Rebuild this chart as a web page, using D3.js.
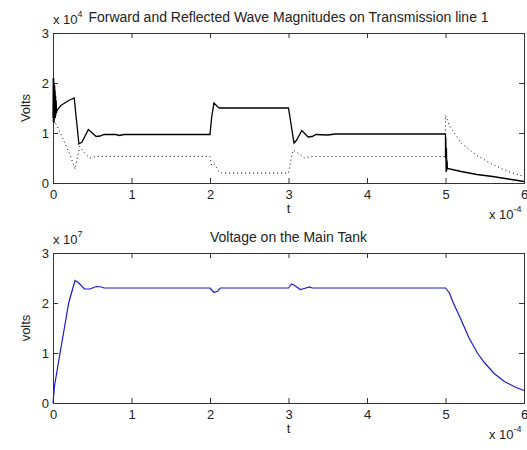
<!DOCTYPE html>
<meta charset="utf-8">
<html>
<head>
  <script src="https://d3js.org/d3.v7.min.js" charset="utf-8"></script>
</head>
<style>
* { font-family: "Liberation Sans", Arial, sans-serif; }
body { margin: 0; background-color: white; }
.tick text { font-size: 13px; fill: #222; }
.lbl { font-size: 13px; fill: #222; }
</style>
<body>
<div id="container"></div>
<script type="text/javascript">

// forward wave (solid), t in 1e-4 s, volts in 1e4
var tForward = [0, 0.003, 0.006, 0.009, 0.012, 0.015, 0.018, 0.021, 0.024, 0.027, 0.03, 0.033, 0.036, 0.04, 0.045, 0.05,
  0.1, 0.2, 0.27, 0.33, 0.37, 0.45, 0.5, 0.55, 0.6, 0.65, 0.8, 0.85, 0.9, 2.0, 2.02, 2.05, 2.1, 2.12, 3.0,
  3.03, 3.07, 3.1, 3.17, 3.25, 3.3, 3.35, 3.5, 3.6, 5.0, 5.0, 5.004, 5.008, 5.012, 5.016, 5.02, 5.024, 5.2, 5.4, 5.6, 5.8, 6.0];
var vForward = [1.3, 2.1, 1.2, 2.1, 1.2, 2.0, 1.25, 1.95, 1.3, 1.85, 1.3, 1.75, 1.35, 1.65, 1.4, 1.45,
  1.55, 1.65, 1.7, 0.78, 0.82, 1.07, 1.0, 0.93, 0.94, 0.97, 0.97, 0.95, 0.97, 0.97, 1.3, 1.6, 1.52, 1.5, 1.5,
  1.2, 0.8, 0.85, 1.05, 0.92, 0.93, 0.97, 0.96, 0.98, 0.98, 0.5, 0.9, 0.22, 0.7, 0.25, 0.45, 0.29, 0.23, 0.17, 0.13, 0.08, 0.03];

// reflected wave (dotted)
var tReflected = [0, 0.03, 0.08, 0.15, 0.22, 0.28, 0.31, 0.34, 0.4, 0.47, 0.55, 2.0, 2.02, 2.06, 2.1, 2.15, 3.0,
  3.03, 3.06, 3.12, 3.2, 3.3, 5.0, 5.0, 5.05, 5.2, 5.4, 5.6, 5.8, 6.0];
var vReflected = [1.25, 1.2, 1.05, 0.8, 0.55, 0.28, 0.5, 0.73, 0.6, 0.5, 0.53, 0.53, 0.35, 0.38, 0.25, 0.2, 0.2,
  0.45, 0.66, 0.6, 0.5, 0.53, 0.53, 1.36, 1.15, 0.8, 0.55, 0.37, 0.23, 0.13];

// main tank voltage, volts in 1e7
var tTank = [0, 0.02, 0.09, 0.2, 0.28, 0.33, 0.4, 0.47, 0.55, 0.62, 0.65, 2.0, 2.05, 2.1, 2.13, 3.0, 3.04, 3.08,
  3.15, 3.2, 3.27, 3.3, 5.0, 5.05, 5.1, 5.2, 5.3, 5.41, 5.5, 5.62, 5.75, 5.9, 6.0];
var vTank = [0, 0.35, 1.0, 2.0, 2.45, 2.4, 2.28, 2.28, 2.33, 2.32, 2.3, 2.3, 2.21, 2.24, 2.3, 2.3, 2.38, 2.35,
  2.27, 2.29, 2.32, 2.3, 2.3, 2.2, 2.0, 1.66, 1.3, 0.99, 0.8, 0.59, 0.43, 0.31, 0.25];

var xTicks = [0, 1, 2, 3, 4, 5, 6];
var yTicks = [0, 1, 2, 3];

var width = 527, height = 450;
var svg = d3.select("#container").append("svg")
  .attr("width", width).attr("height", height);

function panel(top, bottom, title, yLabel, yExp, series) {
  var left = 53, right = 524;
  var x = d3.scaleLinear().domain([0, 6]).range([left, right]);
  var y = d3.scaleLinear().domain([0, 3]).range([bottom, top]);
  var g = svg.append("g");

  g.append("g").attr("transform", "translate(0," + bottom + ")")
    .call(d3.axisBottom(x).tickValues(xTicks).tickSize(-5).tickPadding(7).tickFormat(d3.format("d")));
  g.append("g").attr("transform", "translate(0," + top + ")")
    .call(d3.axisTop(x).tickValues(xTicks).tickSize(-5).tickFormat(""));
  g.append("g").attr("transform", "translate(" + left + ",0)")
    .call(d3.axisLeft(y).tickValues(yTicks).tickSize(-5).tickPadding(4).tickFormat(d3.format("d")));
  g.append("g").attr("transform", "translate(" + right + ",0)")
    .call(d3.axisRight(y).tickValues(yTicks).tickSize(-5).tickFormat(""));
  g.selectAll(".domain").attr("stroke", "#333");
  g.selectAll(".tick line").attr("stroke", "#333");

  series.forEach(function(s) {
    var pts = s.t.map(function(d, i) { return [d, s.v[i]]; });
    g.append("path")
      .attr("d", d3.line().x(function(d) { return x(d[0]); }).y(function(d) { return y(d[1]); })(pts))
      .attr("fill", "none")
      .attr("stroke", s.color)
      .attr("stroke-width", s.w)
      .attr("stroke-dasharray", s.dash);
  });

  // y label
  g.append("text").attr("class", "lbl")
    .attr("transform", "translate(30," + (top + bottom) / 2 + ") rotate(-90)")
    .attr("text-anchor", "middle").text(yLabel);

  // exponent of y
  var ye = g.append("text").attr("class", "lbl").attr("x", left).attr("y", top - 9);
  ye.append("tspan").text("x 10");
  ye.append("tspan").attr("dy", -7).style("font-size", "9px").text(yExp);

  // title
  g.append("text").attr("class", "lbl")
    .attr("x", (left + right) / 2).attr("y", top - 11)
    .attr("text-anchor", "middle").style("font-size", "14px").text(title);

  // x label
  g.append("text").attr("class", "lbl")
    .attr("x", (left + right) / 2).attr("y", bottom + 30)
    .attr("text-anchor", "middle").text("t");

  // exponent of x
  var xe = g.append("text").attr("class", "lbl").attr("x", 489).attr("y", bottom + 36);
  xe.append("tspan").text("x 10");
  xe.append("tspan").attr("dy", -7).style("font-size", "9px").text("-4");
}

panel(33, 183, "Forward and Reflected Wave Magnitudes on Transmission line 1", "Volts", "4", [
  {t: tForward, v: vForward, color: "black", w: 1.3, dash: null},
  {t: tReflected, v: vReflected, color: "black", w: 1, dash: "1,3"}
]);
panel(253, 403, "Voltage on the Main Tank", "volts", "7", [
  {t: tTank, v: vTank, color: "#1a1ad0", w: 1.2, dash: null}
]);
</script>
</body>
</html>
